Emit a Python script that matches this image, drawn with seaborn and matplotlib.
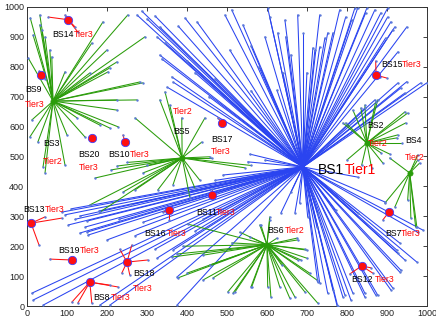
import numpy as np
import pandas as pd
import seaborn as sns
import matplotlib.pyplot as plt

# base stations: name -> tier, plus positions
bs_tier = {'BS1': 1, 'BS2': 2, 'BS3': 2, 'BS4': 2, 'BS5': 2, 'BS6': 2,
           'BS7': 3, 'BS8': 3, 'BS9': 3, 'BS10': 3, 'BS11': 3, 'BS12': 3, 'BS13': 3,
           'BS14': 3, 'BS15': 3, 'BS16': 3, 'BS17': 3, 'BS18': 3, 'BS19': 3, 'BS20': 3}
bs_x = [690, 850, 65, 957, 388, 600, 905, 157, 35, 245, 462, 837, 10, 103, 873, 355, 488, 250, 112, 163]
bs_y = [465, 545, 685, 445, 495, 205, 314, 80, 772, 548, 372, 134, 277, 957, 772, 322, 612, 147, 154, 561]

# users attached to each base station (x list, y list)
users_bs1_x = [275, 287, 320, 332, 395, 425, 378, 332, 337, 362, 350, 365, 325, 300, 345, 400, 420, 455, 470,
               495, 512, 507, 595, 602, 625, 627, 647, 677, 690, 720, 732, 752, 782, 797, 820, 827, 847, 870,
               885, 902, 910, 920, 915, 897, 928, 935, 945, 985, 845, 870, 607, 645, 715, 732, 745, 765, 812,
               850, 902, 950, 928, 950, 1000, 540, 560, 580, 640, 660, 700, 560,
               87, 132, 150, 145, 150, 152, 200, 103, 320, 325, 132, 260, 230, 290, 270, 420, 440, 110, 95,
               180, 120, 400, 470, 490, 552, 557, 595,
               12, 15, 40, 182, 207, 375, 375, 365,
               827, 990, 977, 932, 975, 925, 932, 915, 877, 845, 815, 790, 775, 765, 732, 777, 795, 845,
               872, 910, 935, 927, 945, 895, 827, 772, 727, 670, 635, 810, 752, 727, 725, 702, 682, 660]
users_bs1_y = [973, 986, 970, 933, 963, 950, 936, 839, 826, 766, 732, 749, 900, 960, 880, 820, 780, 700, 760,
               973, 990, 856, 900, 996, 722, 913, 900, 973, 913, 856, 973, 913, 990, 966, 996, 996, 980, 990,
               980, 966, 950, 933, 923, 896, 746, 729, 712, 746, 662, 689, 966, 956, 863, 866, 896, 913, 956,
               996, 996, 933, 850, 750, 746, 940, 870, 800, 780, 840, 780, 720,
               314, 301, 284, 264, 247, 237, 221, 271, 190, 160, 244, 340, 290, 280, 235, 250, 290, 325, 305,
               318, 290, 380, 420, 438, 482, 508, 488,
               43, 20, 3, 3, 3, 3, 97, 187,
               431, 254, 247, 211, 147, 187, 114, 60, 37, 43, 43, 30, 3, 54, 77, 0, 37, 30,
               37, 54, 120, 177, 154, 348, 311, 321, 311, 311, 311, 20, 43, 80, 264, 298, 344, 380]

users_bs2_x = [815, 845, 877, 790, 952, 925, 937, 890, 862, 837, 800, 835, 872, 945, 947, 927, 797, 885, 907]
users_bs2_y = [655, 672, 689, 612, 645, 562, 545, 478, 461, 471, 488, 662, 682, 649, 612, 572, 612, 512, 508]

users_bs3_x = [8, 32, 15, 32, 37, 45, 57, 62, 3, 95, 162, 190, 252, 295, 200, 225, 207, 203, 157, 282, 290,
               275, 225, 225, 228, 207, 182, 125, 145, 100, 7, 12, 27, 45, 40, 95]
users_bs3_y = [963, 973, 906, 940, 923, 900, 856, 833, 829, 783, 879, 950, 973, 900, 856, 816, 796, 783, 779,
               749, 746, 689, 689, 655, 599, 595, 605, 629, 565, 572, 565, 622, 548, 445, 465, 471]

users_bs4_x = [895, 920, 975, 977, 982, 907, 952, 960, 972, 977]
users_bs4_y = [344, 331, 264, 505, 478, 495, 354, 294, 264, 488]

users_bs5_x = [345, 332, 270, 357, 387, 437, 445, 462, 407, 432, 327, 270, 157, 182, 225, 170, 240, 290, 365,
               420, 457, 560, 545, 300, 210, 250]
users_bs5_y = [716, 689, 629, 672, 629, 548, 629, 495, 364, 421, 388, 388, 338, 314, 468, 428, 381, 445, 405,
               394, 499, 470, 462, 470, 455, 480]

users_bs6_x = [390, 375, 377, 400, 440, 465, 502, 532, 557, 582, 607, 625, 675, 700, 700, 707, 725, 657, 632,
               602, 562, 520, 457, 440, 512, 637, 677, 727, 695, 670, 610, 560, 515, 685, 695, 677, 607, 585,
               362, 402]
users_bs6_y = [200, 174, 94, 110, 87, 94, 47, 247, 231, 271, 298, 227, 227, 187, 160, 110, 87, 27, 64,
               64, 64, 47, 137, 170, 211, 137, 154, 10, 47, 30, 30, 64, 43, 154, 190, 221, 288, 271,
               164, 274]

users_t3_x = {'BS7': [890], 'BS8': [227, 207, 112, 127, 162], 'BS9': [30, 45], 'BS10': [240], 'BS11': [462],
              'BS12': [807, 865, 860], 'BS13': [45, 87, 30], 'BS14': [53, 127, 95, 120],
              'BS15': [872, 900, 882], 'BS16': [340, 350, 355], 'BS17': [477],
              'BS18': [232, 262, 302, 237, 257], 'BS19': [57], 'BS20': []}
users_t3_y = {'BS7': [288], 'BS8': [64, 70, 13, 10, 10], 'BS9': [785, 760], 'BS10': [572], 'BS11': [392],
              'BS12': [107, 110, 128], 'BS13': [298, 294, 204], 'BS14': [966, 916, 973, 933],
              'BS15': [819, 762, 766], 'BS16': [314, 311, 288], 'BS17': [629],
              'BS18': [190, 204, 154, 110, 104], 'BS19': [157], 'BS20': []}

users_x = {'BS1': users_bs1_x, 'BS2': users_bs2_x, 'BS3': users_bs3_x, 'BS4': users_bs4_x,
           'BS5': users_bs5_x, 'BS6': users_bs6_x, **users_t3_x}
users_y = {'BS1': users_bs1_y, 'BS2': users_bs2_y, 'BS3': users_bs3_y, 'BS4': users_bs4_y,
           'BS5': users_bs5_y, 'BS6': users_bs6_y, **users_t3_y}

# label placement (name position, tier position)
label_pos = {'BS1': ((728, 455), (795, 455)), 'BS2': ((852, 605), (852, 545)),
             'BS3': ((40, 542), (40, 482)), 'BS4': ((945, 552), (945, 498)),
             'BS5': ((365, 585), (365, 649)), 'BS6': ((600, 251), (645, 251)),
             'BS7': ((895, 244), (935, 244)), 'BS8': ((165, 30), (210, 30)),
             'BS9': ((-5, 725), (-5, 675)), 'BS10': ((203, 505), (258, 505)),
             'BS11': ((422, 314), (473, 314)), 'BS12': ((812, 90), (870, 90)),
             'BS13': ((-10, 324), (45, 324)), 'BS14': ((63, 909), (117, 909)),
             'BS15': ((885, 809), (938, 809)), 'BS16': ((293, 244), (350, 244)),
             'BS17': ((460, 558), (460, 515)), 'BS18': ((265, 110), (265, 60)),
             'BS19': ((78, 187), (132, 187)), 'BS20': ((128, 508), (130, 462))}

tier_colors = {1: '#2a44f0', 2: '#2a9c0a', 3: '#ff1010'}

# build segment table
rows = []
seg = 0
names = list(bs_tier.keys())
for i, name in enumerate(names):
    for ux, uy in zip(users_x[name], users_y[name]):
        rows.append((seg, bs_x[i], bs_y[i], bs_tier[name]))
        rows.append((seg, ux, uy, bs_tier[name]))
        seg += 1
segs = pd.DataFrame(rows, columns=['seg', 'x', 'y', 'tier'])
user_pts = segs.iloc[1::2]

sns.set_style('white')
plt.rcParams['font.family'] = ['Liberation Sans', 'DejaVu Sans']

fig = plt.figure(figsize=(4.36, 3.27), dpi=100)
ax = fig.add_axes([0.062, 0.064, 0.917, 0.915])

sns.lineplot(data=segs, x='x', y='y', units='seg', estimator=None, sort=False,
             hue='tier', palette=tier_colors, linewidth=0.75, legend=False, ax=ax)
sns.scatterplot(data=user_pts, x='x', y='y', color='#5a78d8', s=3, linewidth=0,
                legend=False, ax=ax, zorder=3)

bs_df = pd.DataFrame({'name': names, 'x': bs_x, 'y': bs_y, 'tier': [bs_tier[n] for n in names]})
sns.scatterplot(data=bs_df[bs_df.tier == 3], x='x', y='y', color='#ff1010', edgecolor='#4040ff',
                s=36, linewidth=0.6, legend=False, ax=ax, zorder=4)
sns.scatterplot(data=bs_df[bs_df.tier == 2], x='x', y='y', color='#2a9c0a', edgecolor='#2a9c0a',
                s=14, linewidth=0.5, legend=False, ax=ax, zorder=4)

for name in names:
    (nx, ny), (tx, ty) = label_pos[name]
    fs = 10 if name == 'BS1' else 6.3
    ax.text(nx, ny, name, fontsize=fs, color='black', ha='left', va='center', clip_on=False, zorder=5)
    ax.text(tx, ty, f'Tier{bs_tier[name]}', fontsize=fs, color='red', ha='left', va='center',
            clip_on=False, zorder=5)

ax.set_xlim(0, 1000)
ax.set_ylim(0, 1000)
ax.set_xticks(np.arange(0, 1001, 100))
ax.set_yticks(np.arange(0, 1001, 100))
ax.set_xlabel('')
ax.set_ylabel('')
ax.tick_params(direction='in', top=True, right=True, length=3, width=0.6, labelsize=6.5,
               colors='#222222', pad=2)
for sp in ax.spines.values():
    sp.set_color('#333333')
    sp.set_linewidth(0.7)

fig.savefig('out.png', dpi=100)
